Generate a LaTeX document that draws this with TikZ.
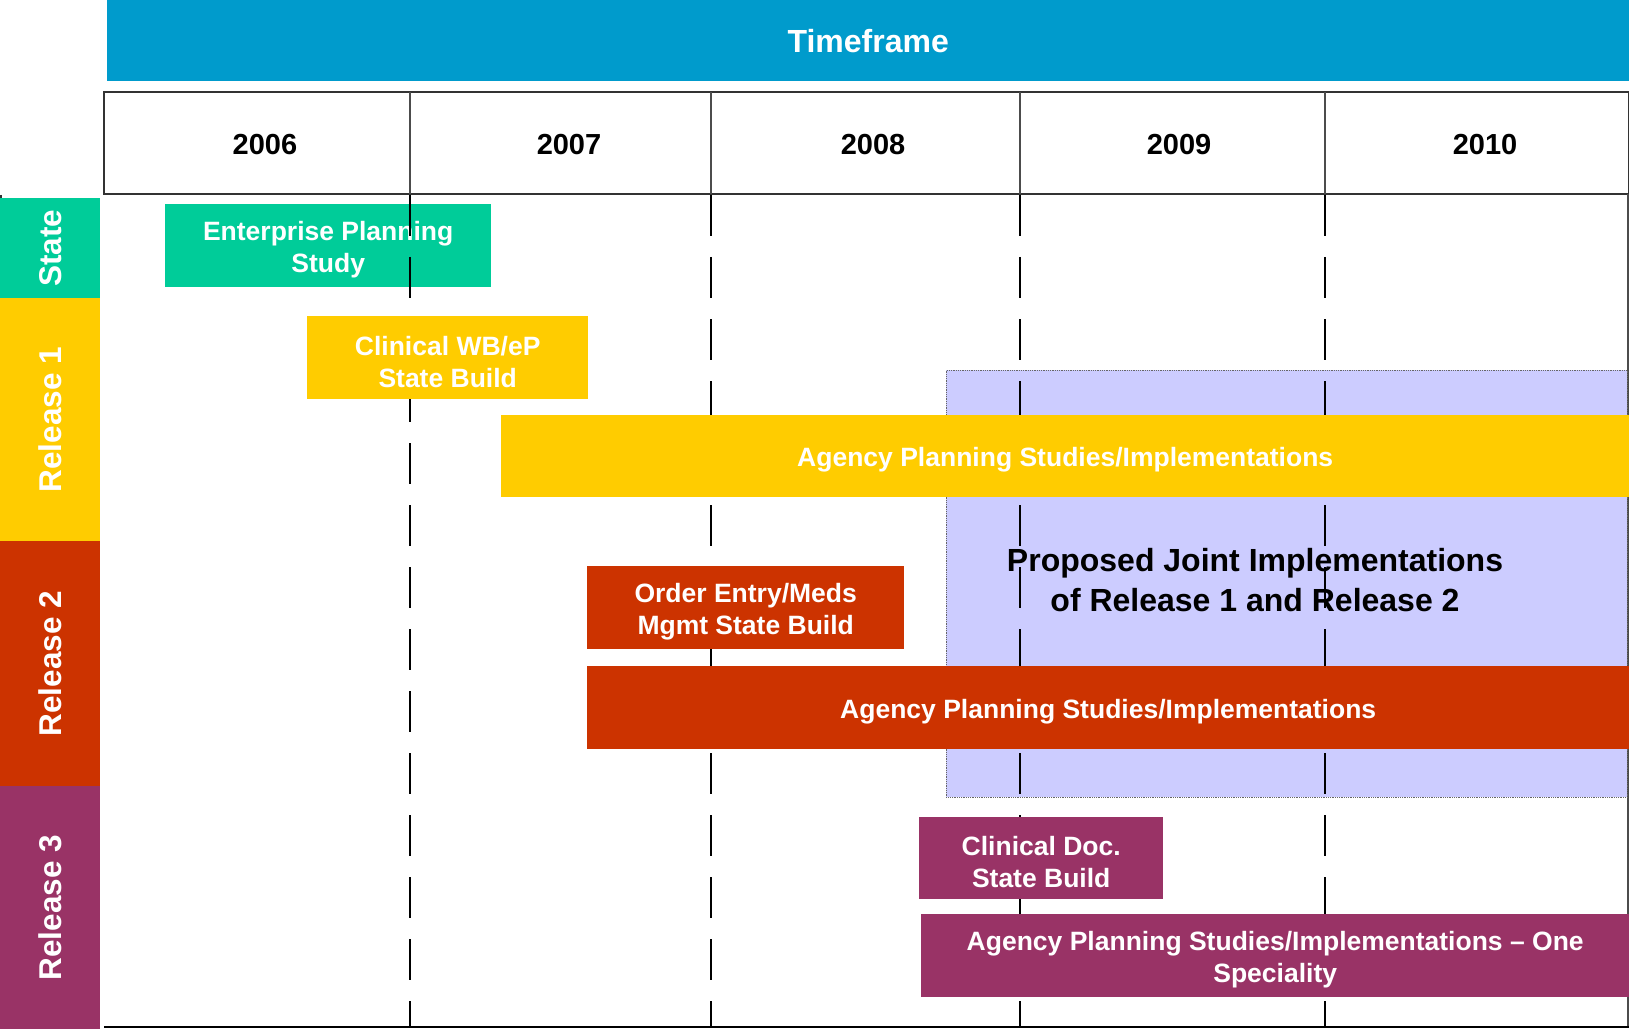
\documentclass[tikz,border=0pt]{standalone}
\usepackage{fontspec}
\setmainfont{Liberation Sans}
\usetikzlibrary{positioning}
\definecolor{tfblue}{RGB}{0,155,204}
\definecolor{stategreen}{RGB}{0,204,153}
\definecolor{relyellow}{RGB}{255,204,0}
\definecolor{relred}{RGB}{204,51,0}
\definecolor{relpurple}{RGB}{153,51,102}
\definecolor{jointlav}{RGB}{204,204,255}
\newcommand{\barfont}{\fontsize{26.5}{32}\selectfont\bfseries}
\newcommand{\lanefont}{\fontsize{31.5}{36}\selectfont\bfseries}
\newcommand{\yearfont}{\fontsize{29}{34}\selectfont\bfseries}
\newcommand{\barh}{82}

\begin{document}
\begin{tikzpicture}[x=1pt,y=-1pt]
        %\draw[help lines] (0,0) grid (1629,1032);
        \tikzset{
                bartext/.style={text=white, font=\barfont, align=center, yshift=-4pt},
                box/.style={anchor=north west, inner sep=0pt, minimum height=\barh, label={[bartext]center:#1}},
                lane/.style={anchor=north west, inner sep=0pt, minimum width=100, text=white, font=\lanefont},
                yearline/.style={line width=1.8pt, dash pattern=on 41pt off 21pt},
        }
        \useasboundingbox (0,0) rectangle (1629,1032);
        % header
        \node[anchor=north west, fill=tfblue, inner sep=0pt, minimum width=1522, minimum height=81,
              text=white, font=\fontsize{32}{38}\selectfont\bfseries] (timeframe) at (107,0) {Timeframe};
        \draw[line width=1.2pt, black!80] (104,92) rectangle (1629,194);
        \draw[line width=1.2pt, black!70] (1628,194) -- (1628,1027);
        \foreach \x in {410,711,1020,1325}
                \draw[line width=1.2pt, black!70] (\x,92) -- (\x,194);
        \foreach \x/\yr in {265/2006,569/2007,873/2008,1179/2009,1485/2010}
                \node[font=\yearfont] (y\yr) at (\x,144.5) {\yr};
        % lanes
        \draw[line width=1.5pt, black!80] (1,195) -- (1,1029);
        \node[lane, fill=stategreen, minimum height=100] (state) at (0,198) {\rotatebox{90}{State}};
        \node[lane, fill=relyellow, minimum height=243] (rel1) at (0,298) {\rotatebox{90}{Release 1}};
        \node[lane, fill=relred, minimum height=245] (rel2) at (0,541) {\rotatebox{90}{Release 2}};
        \node[lane, fill=relpurple, minimum height=243] (rel3) at (0,786) {\rotatebox{90}{Release 3}};
        % joint area
        \node[anchor=north west, inner sep=0pt, fill=jointlav, draw=black!60, densely dotted, line width=0.8pt,
              minimum width=681, minimum height=427] (joint) at (946,370) {};
        \node[font=\fontsize{32}{39.5}\selectfont\bfseries, align=center] (jointtext) at (1255,580)
                {Proposed Joint Implementations\\of Release 1 and Release 2};
        \node[box={Enterprise Planning\\Study}, fill=stategreen, minimum width=326, minimum height=83] (eps) at (165,204) {};
        % year lines
        \foreach \x in {410,711,1020,1325}
                \draw[yearline] (\x,195) -- (\x,1027);
        \draw[line width=2.8pt] (104,1027) -- (1629,1027);
        % bars
        \node[box={Clinical WB/eP\\State Build}, fill=relyellow, minimum width=281, minimum height=83] (wbep) at (307,316) {};
        \node[box={Agency Planning Studies/Implementations}, fill=relyellow, minimum width=1128] (agency1) at (501,415) {};
        \node[box={Order Entry/Meds\\Mgmt State Build}, fill=relred, minimum width=317, minimum height=83] (oemeds) at (587,566) {};
        \node[box={Agency Planning Studies/Implementations}, fill=relred, minimum width=1042, minimum height=83] (agency2) at (587,666) {};
        \node[box={Clinical Doc.\\State Build}, fill=relpurple, minimum width=244] (cdoc) at (919,817) {};
        \node[box={Agency Planning Studies/Implementations -- One\\Speciality}, fill=relpurple,
              minimum width=708, minimum height=83] (agency3) at (921,914) {};
\end{tikzpicture}
\end{document}
